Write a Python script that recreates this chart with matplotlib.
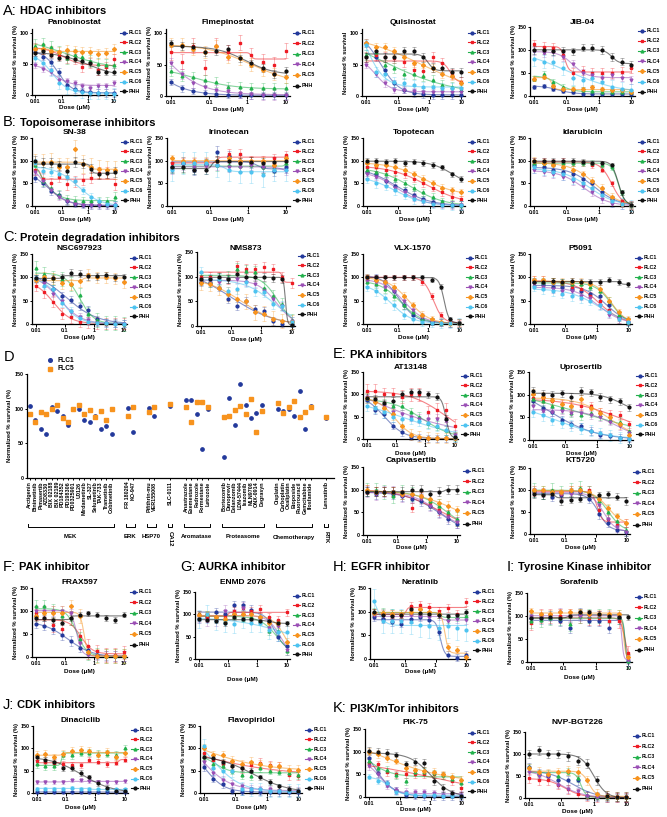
import numpy as np
import matplotlib
matplotlib.use("Agg")
import matplotlib.pyplot as plt
from matplotlib.lines import Line2D
from matplotlib.transforms import blended_transform_factory

plt.rcParams['font.family'] = ['Liberation Sans', 'DejaVu Sans']
plt.rcParams['font.weight'] = 'bold'
plt.rcParams['axes.labelweight'] = 'bold'

W, H = 667, 817

# ---------------- data ----------------
doses = [0.01, 0.02, 0.039, 0.078, 0.156, 0.3125, 0.625, 1.25, 2.5, 5, 10]
names = ["FLC1", "FLC2", "FLC3", "FLC4", "FLC5", "FLC6", "PHH"]
colors = {"FLC1": "#23399b", "FLC2": "#ee1c25", "FLC3": "#22b14c", "FLC4": "#9a4fb5",
          "FLC5": "#f7931e", "FLC6": "#4dc3f0", "PHH": "#111111"}
markers = {"FLC1": "o", "FLC2": "s", "FLC3": "^", "FLC4": "v", "FLC5": "D", "FLC6": "o", "PHH": "o"}

panobinostat = {
    "FLC1": [70, 62, 53, 38, 16, 10, 6, 5, 4, 3, 3],
    "FLC2": [77, 75, 70, 65, 60, 58, 45, 52, 40, 45, 58],
    "FLC3": [80, 82, 78, 70, 60, 65, 62, 55, 50, 48, 48],
    "FLC4": [48, 42, 38, 25, 22, 20, 15, 12, 15, 15, 20],
    "FLC5": [75, 75, 72, 70, 73, 72, 70, 70, 67, 68, 75],
    "FLC6": [60, 52, 40, 20, 12, 8, 5, 3, 3, 3, 2],
    "PHH": [68, 72, 65, 60, 62, 58, 55, 52, 37, 38, 38]}
panobinostat_err = [6, 8, 10, 5, 8, 10, 5]
fimepinostat = {
    "FLC1": [22, 12, 8, 5, 3, 2, 2, 1, 1, 1, 1],
    "FLC2": [70, 55, 80, 45, 80, 70, 85, 65, 55, 50, 72],
    "FLC3": [40, 32, 30, 25, 22, 15, 14, 13, 12, 12, 12],
    "FLC4": [52, 35, 20, 15, 10, 8, 5, 3, 2, 2, 2],
    "FLC5": [82, 82, 75, 70, 80, 62, 60, 50, 42, 35, 30],
    "PHH": [84, 80, 78, 70, 72, 75, 60, 52, 45, 35, 40]}
fimepinostat_err = [5, 12, 8, 8, 10, 6]
quisinostat = {
    "FLC1": [85, 62, 42, 20, 10, 5, 3, 2, 2, 2, 2],
    "FLC2": [62, 65, 62, 60, 55, 42, 40, 62, 52, 35, 22],
    "FLC3": [65, 70, 50, 45, 35, 35, 32, 25, 18, 15, 10],
    "FLC4": [50, 35, 20, 10, 10, 8, 7, 6, 7, 6, 6],
    "FLC5": [85, 78, 78, 72, 62, 52, 50, 45, 35, 32, 20],
    "FLC6": [82, 38, 35, 22, 20, 18, 15, 14, 12, 12, 12],
    "PHH": [62, 72, 62, 63, 72, 72, 62, 45, 45, 38, 38]}
quisinostat_err = [6, 8, 8, 5, 6, 8, 7]
jib04 = {
    "FLC1": [20, 22, 15, 10, 8, 5, 5, 5, 4, 4, 4],
    "FLC2": [112, 107, 105, 90, 50, 55, 50, 50, 50, 52, 60],
    "FLC3": [38, 48, 30, 20, 15, 13, 10, 8, 8, 8, 8],
    "FLC4": [98, 93, 95, 85, 70, 50, 45, 40, 45, 40, 35],
    "FLC5": [38, 42, 22, 15, 15, 15, 20, 15, 12, 12, 8],
    "FLC6": [80, 75, 75, 60, 40, 35, 40, 30, 20, 15, 12],
    "PHH": [100, 99, 98, 98, 97, 105, 105, 100, 85, 75, 68]}
jib04_err = [4, 10, 6, 8, 5, 15, 8]

sn38 = {
    "FLC1": [62, 50, 32, 25, 10, 5, 3, 2, 2, 2, 2],
    "FLC2": [80, 60, 50, 65, 48, 55, 58, 62, 73, 73, 48],
    "FLC3": [90, 55, 40, 25, 15, 12, 10, 10, 10, 10, 20],
    "FLC4": [75, 55, 35, 20, 10, 5, 3, 2, 2, 2, 2],
    "FLC5": [95, 95, 98, 85, 85, 125, 92, 85, 82, 80, 80],
    "FLC6": [95, 78, 75, 70, 65, 55, 35, 20, 10, 5, 3],
    "PHH": [100, 95, 95, 90, 78, 97, 93, 82, 70, 72, 75]}
sn38_err = [8, 12, 10, 6, 20, 8, 10]
irinotecan = {
    "FLC1": [85, 95, 80, 92, 120, 110, 100, 95, 85, 78, 85],
    "FLC2": [95, 95, 95, 95, 100, 115, 115, 100, 100, 105, 112],
    "FLC3": [85, 85, 88, 92, 90, 90, 88, 90, 85, 85, 95],
    "FLC4": [80, 90, 85, 88, 90, 85, 85, 90, 85, 85, 78],
    "FLC5": [105, 100, 100, 100, 100, 105, 100, 100, 100, 90, 105],
    "FLC6": [80, 95, 95, 95, 90, 80, 75, 75, 68, 80, 80],
    "PHH": [85, 85, 80, 80, 100, 100, 95, 98, 95, 98, 100]}
irinotecan_err = [12, 10, 12, 10, 8, 25, 10]
topotecan = {
    "FLC1": [75, 70, 55, 45, 35, 25, 15, 8, 5, 3, 2],
    "FLC2": [85, 85, 80, 75, 70, 60, 50, 40, 30, 20, 15],
    "FLC3": [80, 75, 70, 60, 50, 40, 30, 20, 10, 5, 3],
    "FLC4": [70, 65, 55, 40, 30, 20, 10, 5, 3, 2, 2],
    "FLC5": [95, 90, 90, 85, 80, 70, 60, 50, 40, 35, 30],
    "FLC6": [60, 50, 45, 35, 25, 15, 10, 5, 3, 2, 2],
    "PHH": [100, 100, 98, 100, 95, 98, 95, 90, 85, 70, 60]}
topotecan_err = [8, 8, 8, 8, 8, 10, 6]
idarubicin = {
    "FLC1": [90, 85, 80, 75, 70, 60, 50, 30, 15, 5, 2],
    "FLC2": [100, 100, 98, 100, 95, 95, 90, 80, 50, 10, 2],
    "FLC3": [95, 95, 95, 95, 95, 95, 95, 90, 85, 30, 2],
    "FLC4": [80, 75, 70, 65, 55, 45, 30, 15, 5, 2, 2],
    "FLC5": [100, 95, 90, 85, 80, 70, 55, 40, 20, 5, 2],
    "FLC6": [85, 80, 75, 70, 60, 50, 40, 25, 10, 5, 2],
    "PHH": [100, 100, 100, 100, 100, 98, 95, 95, 90, 30, 3]}
idarubicin_err = [8, 6, 6, 8, 8, 12, 5]

nsc697923 = {
    "FLC1": [98, 95, 75, 60, 52, 38, 30, 10, 3, 2, 1],
    "FLC2": [82, 68, 48, 22, 15, 5, 3, 2, 1, 1, 1],
    "FLC3": [120, 108, 98, 97, 85, 62, 22, 8, 3, 2, 1],
    "FLC4": [95, 88, 65, 50, 25, 15, 8, 3, 2, 1, 1],
    "FLC5": [95, 100, 98, 87, 85, 92, 105, 100, 100, 98, 90],
    "FLC6": [98, 82, 75, 45, 28, 12, 5, 3, 2, 1, 1],
    "PHH": [98, 97, 98, 100, 110, 108, 102, 102, 104, 100, 100]}
nsc697923_err = [8, 12, 15, 8, 12, 8, 8]
nms873 = {
    "FLC1": [90, 88, 78, 55, 40, 50, 35, 30, 10, 5, 5],
    "FLC2": [100, 100, 100, 95, 122, 115, 115, 120, 115, 100, 88],
    "FLC3": [95, 92, 95, 100, 115, 112, 110, 78, 60, 45, 12],
    "FLC4": [92, 90, 90, 95, 95, 90, 85, 70, 55, 40, 10],
    "FLC5": [88, 85, 78, 65, 55, 50, 28, 25, 15, 10, 8],
    "FLC6": [110, 95, 95, 70, 75, 90, 70, 68, 45, 40, 8],
    "PHH": [95, 95, 100, 95, 105, 100, 100, 100, 98, 95, 2]}
nms873_err = [8, 10, 12, 8, 15, 10, 8]
vlx1570 = {
    "FLC1": [100, 100, 90, 70, 40, 20, 10, 5, 3, 2, 2],
    "FLC2": [100, 100, 100, 100, 100, 100, 90, 60, 20, 5, 2],
    "FLC3": [90, 85, 75, 60, 40, 25, 10, 5, 3, 2, 2],
    "FLC4": [95, 90, 80, 70, 50, 30, 15, 5, 3, 2, 2],
    "FLC5": [100, 95, 90, 80, 60, 40, 20, 10, 5, 3, 2],
    "FLC6": [80, 70, 55, 40, 20, 10, 5, 3, 2, 2, 2],
    "PHH": [100, 100, 100, 100, 100, 100, 100, 95, 80, 10, 2]}
vlx1570_err = [8, 6, 8, 8, 8, 10, 5]
p5091 = {
    "FLC1": [90, 85, 80, 80, 75, 70, 65, 60, 40, 15, 5],
    "FLC2": [95, 95, 90, 85, 80, 75, 60, 50, 30, 10, 5],
    "FLC3": [90, 90, 90, 88, 85, 85, 80, 70, 50, 20, 5],
    "FLC4": [85, 80, 75, 70, 70, 60, 55, 40, 20, 10, 5],
    "FLC5": [95, 95, 90, 90, 90, 90, 85, 75, 50, 25, 10],
    "FLC6": [80, 75, 70, 65, 60, 55, 50, 40, 25, 10, 5],
    "PHH": [90, 90, 92, 90, 92, 90, 90, 90, 95, 90, 85]}
p5091_err = [8, 8, 8, 8, 8, 10, 6]

at13148 = {
    "FLC1": [88, 65, 55, 30, 15, 5, 3, 2, 2, 2, 2],
    "FLC2": [108, 108, 100, 100, 95, 100, 100, 60, 65, 65, 30],
    "FLC3": [92, 85, 80, 75, 75, 60, 50, 35, 30, 20, 5],
    "FLC4": [95, 82, 75, 60, 55, 50, 45, 45, 45, 40, 10],
    "FLC5": [92, 82, 70, 55, 30, 10, 5, 3, 2, 2, 2],
    "FLC6": [75, 70, 60, 50, 45, 45, 40, 35, 30, 20, 5],
    "PHH": [92, 90, 80, 85, 100, 105, 105, 100, 95, 45, 5]}
at13148_err = [8, 15, 10, 10, 12, 12, 8]
uprosertib = {
    "FLC1": [85, 70, 62, 45, 35, 30, 20, 12, 8, 5, 3],
    "FLC2": [92, 90, 85, 80, 75, 75, 75, 62, 58, 55, 35],
    "FLC3": [90, 85, 75, 70, 60, 55, 60, 55, 45, 40, 20],
    "FLC4": [75, 65, 62, 65, 60, 60, 55, 50, 40, 30, 15],
    "FLC5": [102, 95, 88, 80, 75, 90, 70, 60, 50, 35, 12],
    "FLC6": [62, 55, 45, 38, 32, 25, 20, 15, 10, 5, 3],
    "PHH": [108, 102, 100, 103, 95, 108, 105, 95, 90, 85, 72]}
uprosertib_err = [8, 8, 10, 8, 10, 12, 8]
capivasertib = {
    "FLC1": [95, 90, 95, 90, 85, 80, 75, 65, 50, 35, 25],
    "FLC2": [100, 95, 95, 95, 90, 60, 85, 70, 55, 45, 30],
    "FLC3": [100, 100, 95, 85, 95, 90, 85, 75, 65, 50, 35],
    "FLC4": [95, 90, 95, 95, 85, 85, 80, 65, 50, 40, 28],
    "FLC5": [100, 95, 95, 95, 90, 90, 85, 80, 70, 65, 55],
    "PHH": [95, 95, 95, 95, 95, 100, 100, 90, 95, 100, 100]}
capivasertib_err = [10, 10, 15, 12, 10, 10]
kt5720 = {
    "FLC1": [95, 90, 85, 88, 95, 95, 80, 45, 25, 10, 5],
    "FLC2": [95, 95, 95, 90, 100, 100, 100, 55, 35, 20, 25],
    "FLC3": [100, 95, 100, 95, 100, 105, 95, 75, 50, 30, 10],
    "FLC4": [100, 95, 90, 90, 90, 95, 90, 65, 35, 15, 5],
    "FLC5": [100, 100, 95, 95, 100, 100, 95, 80, 60, 40, 25],
    "PHH": [90, 88, 90, 75, 78, 80, 88, 88, 90, 85, 75]}
kt5720_err = [10, 8, 15, 10, 8, 8]

frax597 = {
    "FLC1": [72, 68, 60, 48, 35, 20, 15, 5, 3, 2, 2],
    "FLC2": [95, 85, 70, 60, 85, 45, 25, 12, 5, 5, 10],
    "FLC3": [110, 110, 100, 90, 85, 40, 8, 5, 3, 2, 2],
    "FLC4": [100, 100, 100, 100, 95, 30, 5, 3, 2, 2, 2],
    "FLC5": [90, 95, 95, 95, 110, 90, 10, 3, 2, 2, 2],
    "PHH": [85, 85, 80, 75, 85, 92, 95, 92, 85, 80, 92]}
frax597_err = [10, 15, 15, 10, 15, 6]
enmd2076 = {
    "FLC1": [90, 95, 105, 100, 120, 120, 110, 95, 85, 50, 28],
    "FLC2": [100, 92, 95, 95, 108, 115, 108, 112, 95, 88, 105],
    "FLC3": [100, 100, 95, 90, 95, 90, 95, 85, 62, 62, 18],
    "FLC4": [95, 85, 85, 108, 100, 115, 100, 90, 70, 75, 20],
    "FLC5": [98, 100, 95, 90, 100, 100, 100, 95, 80, 80, 38],
    "FLC6": [90, 100, 85, 80, 78, 90, 80, 80, 65, 60, 60],
    "PHH": [90, 88, 85, 80, 95, 90, 90, 85, 85, 80, 80]}
enmd2076_err = [10, 8, 8, 12, 8, 20, 5]
neratinib = {
    "FLC1": [88, 85, 78, 75, 85, 88, 82, 58, 8, 3, 8],
    "FLC2": [98, 95, 95, 90, 112, 115, 110, 102, 108, 95, 120],
    "FLC3": [100, 100, 98, 95, 100, 95, 100, 95, 85, 88, 90],
    "FLC4": [92, 90, 88, 90, 92, 90, 88, 90, 80, 85, 82],
    "FLC5": [98, 98, 95, 95, 100, 105, 100, 95, 25, 20, 5],
    "FLC6": [122, 80, 80, 80, 78, 72, 70, 65, 70, 65, 62],
    "PHH": [100, 92, 90, 92, 105, 98, 95, 92, 90, 92, 100]}
neratinib_err = [8, 8, 8, 8, 8, 25, 6]
sorafenib = {
    "FLC1": [95, 95, 95, 90, 75, 105, 90, 90, 75, 95, 3],
    "FLC2": [85, 100, 100, 100, 100, 100, 95, 95, 90, 90, 20],
    "FLC3": [90, 92, 95, 95, 82, 100, 100, 100, 100, 98, 2],
    "FLC4": [100, 98, 100, 108, 100, 100, 100, 100, 100, 98, 5],
    "FLC5": [110, 105, 105, 108, 108, 108, 105, 105, 105, 105, 10],
    "PHH": [95, 95, 98, 95, 100, 108, 108, 105, 100, 98, 97]}
sorafenib_err = [12, 15, 15, 10, 8, 5]

dinaciclib = {
    "FLC1": [2, 2, 3, 2, 3, 3, 2, 3, 2, 2, 2],
    "FLC2": [72, 70, 68, 65, 63, 62, 75, 70, 65, 68, 75],
    "FLC3": [65, 60, 60, 85, 85, 90, 90, 88, 88, 85, 100],
    "FLC4": [25, 24, 25, 25, 28, 28, 26, 24, 25, 25, 26],
    "FLC5": [85, 88, 80, 88, 95, 97, 95, 85, 92, 80, 90],
    "FLC6": [10, 10, 10, 10, 12, 10, 10, 8, 8, 8, 8],
    "PHH": [80, 75, 70, 55, 55, 45, 35, 22, 12, 5, 5]}
dinaciclib_err = [2, 6, 8, 4, 8, 3, 6]
flavopiridol = {
    "FLC1": [58, 32, 20, 5, 3, 5, 3, 2, 2, 2, 2],
    "FLC2": [90, 75, 65, 60, 55, 62, 68, 62, 60, 40, 38],
    "FLC3": [80, 65, 60, 50, 40, 38, 55, 50, 48, 45, 40],
    "FLC4": [70, 45, 30, 20, 15, 10, 8, 8, 5, 5, 5],
    "FLC5": [100, 85, 85, 72, 65, 70, 65, 60, 60, 52, 52],
    "FLC6": [105, 55, 50, 50, 10, 8, 8, 5, 5, 5, 5],
    "PHH": [80, 78, 70, 60, 55, 50, 35, 25, 15, 10, 5]}
flavopiridol_err = [8, 10, 8, 8, 10, 15, 6]
pik75 = {
    "FLC1": [85, 52, 30, 15, 5, 3, 2, 2, 2, 2, 2],
    "FLC2": [75, 72, 55, 50, 50, 50, 50, 50, 48, 35, 20],
    "FLC3": [80, 65, 60, 48, 35, 55, 55, 52, 48, 40, 30],
    "FLC4": [68, 50, 25, 15, 12, 10, 10, 8, 5, 5, 5],
    "FLC5": [100, 95, 85, 80, 65, 60, 58, 55, 50, 45, 38],
    "FLC6": [45, 35, 30, 10, 8, 5, 5, 5, 3, 3, 3],
    "PHH": [102, 100, 98, 92, 72, 78, 75, 35, 20, 8, 3]}
pik75_err = [8, 8, 8, 8, 8, 6, 8]
nvpbgt226 = {
    "FLC1": [70, 55, 50, 40, 40, 40, 5, 3, 2, 2, 2],
    "FLC2": [45, 40, 40, 30, 20, 10, 3, 2, 2, 2, 2],
    "FLC3": [70, 55, 55, 50, 60, 45, 5, 3, 2, 2, 2],
    "FLC4": [60, 50, 50, 30, 20, 15, 5, 3, 2, 2, 2],
    "FLC5": [68, 60, 55, 58, 62, 60, 40, 10, 5, 3, 3],
    "PHH": [100, 108, 100, 100, 95, 85, 78, 40, 5, 3, 3]}
nvpbgt226_err = [10, 10, 8, 8, 10, 10]

# Panel D
d_groups = ["MEK", "ERK", "HSP70", "CA12", "Aromatase", "Proteasome", "Chemotherapy", "RTK"]
d_drugs = [
    ["Arctigenin", "Binimetinib", "Pimasertib", "AZD8330", "BIX 02188", "BIX 02189", "PD184352",
     "PD198306", "PD0325901", "U0126", "Mirdametinib", "SL-327", "Selumetinib", "TAK-733",
     "Trametinib", "Cobimetinib"],
    ["FR 180204", "KO-947"],
    ["Pifithrin-mu", "VER155008"],
    ["SLC-0111"],
    ["Anastrazole", "Exemestane", "Fadrozole", "Formestane", "Letrozole"],
    ["Bortezomib", "Danoprevir", "Delanzomib", "LDN-57444", "Ixazomib", "MLN9708", "ONX-0914", "Degrasyn"],
    ["Cisplatin", "Carboplatin", "Oxaliplatin", "Etoposide", "Fluorouracil", "Gemcitabine", "Ifosfamide"],
    ["Lenvatinib"]]
d_flc1 = [104, 83, 71, 63, 102, 97, 90, 77, 100, 100, 83, 81, 90, 71, 75, 63,
          101, 67, 101, 89, 104, 113, 112, 93, 42, 100,
          31, 115, 77, 136, 105, 87, 94, 106,
          100, 96, 99, 89, 126, 71, 104, 86]
d_flc5 = [93, 81, 95, 93, 99, 106, 87, 81, 100, 105, 93, 98, 88, 96, 84, 100,
          89, 103, 95, 102, 107, 102, 81, 109, 109, 102,
          88, 89, 98, 104, 93, 114, 67, 96,
          108, 94, 103, 111, 88, 95, 102, 88]

# ---------------- helpers ----------------
fig = plt.figure(figsize=(W / 100, H / 100), dpi=100)


def ftext(x, y, s, **kw):
    return fig.text(x / W, 1 - y / H, s, **kw)


def fit4pl(x, y):
    lx = np.log10(np.asarray(x, float))
    y = np.asarray(y, float)
    c = np.linspace(-2.8, 1.8, 93)
    h = np.geomspace(0.3, 15, 36)
    C, HH = np.meshgrid(c, h, indexing='ij')
    S = 1.0 / (1.0 + 10 ** ((lx[None, None, :] - C[..., None]) * HH[..., None]))
    sm = S.mean(-1)
    ym = y.mean()
    var = ((S - sm[..., None]) ** 2).sum(-1)
    cov = ((S - sm[..., None]) * (y - ym)).sum(-1)
    span = np.where(var > 1e-6, cov / np.maximum(var, 1e-6), 0.0)
    b = ym - span * sm
    t = b + span
    b = np.clip(b, 0, 150)
    t = np.clip(t, 0, 160)
    pred = b[..., None] + (t - b)[..., None] * S
    sse = ((pred - y) ** 2).sum(-1) + 1e-3 * (1.0 / HH)
    i = np.unravel_index(np.argmin(sse), sse.shape)
    return b[i], t[i], C[i], HH[i]


def style_axes(ax, yticks):
    for s in ["top", "right"]:
        ax.spines[s].set_visible(False)
    for s in ["left", "bottom"]:
        ax.spines[s].set_linewidth(0.9)
    ax.tick_params(axis='both', direction='out', length=1.8, width=0.7, labelsize=3.9, pad=0.8)
    ax.set_yticks(yticks)
    ax.set_yticklabels([str(v) for v in yticks], fontweight='bold')


def legend_entries(entries, lx, ty, dy, fs=3.8, ms=2.0):
    for k, (nm, col, mk) in enumerate(entries):
        yy = ty + k * dy
        fig.add_artist(Line2D([lx / W, (lx + 7) / W], [1 - yy / H, 1 - yy / H], color=col,
                              lw=0.8, transform=fig.transFigure))
        fig.add_artist(Line2D([(lx + 3.5) / W], [1 - yy / H], color=col, ls='none',
                              marker=mk, ms=ms, transform=fig.transFigure))
        ftext(lx + 9, yy, nm, fontsize=fs, fontweight='bold', va='center', ha='left')


def dose_panel(data, err, box, ymax, yticks, title, title_y, xlabel_y,
               ylabel="Normalized % survival (%)", leg_dy=9.8):
    l, t, r, b = box
    ax = fig.add_axes([l / W, 1 - b / H, (r - l) / W, (b - t) / H])
    xs = np.geomspace(0.01, 10, 200)
    for k, (nm, vals) in enumerate(data.items()):
        col = colors[nm]
        ax.errorbar(doses, vals, yerr=err[k], fmt='none', ecolor=col, alpha=0.35,
                    elinewidth=0.6, capsize=1.2, capthick=0.6, clip_on=False)
        bb, tt, cc, hh = fit4pl(doses, vals)
        ys = bb + (tt - bb) / (1 + 10 ** ((np.log10(xs) - cc) * hh))
        ax.plot(xs, ys, color=col, lw=0.8, alpha=0.55)
        ax.plot(doses, vals, ls='none', marker=markers[nm], ms=2.0, color=col,
                mec=col, clip_on=False, zorder=5)
    ax.set_xscale('log')
    ax.set_xlim(0.0075, 13)
    ax.set_ylim(0, ymax)
    ax.set_xticks([0.01, 0.1, 1, 10])
    ax.set_xticklabels(["0.01", "0.1", "1", "10"], fontweight='bold')
    ax.xaxis.set_minor_locator(matplotlib.ticker.NullLocator())
    style_axes(ax, yticks)
    ax.set_ylabel(ylabel, fontsize=4.2, fontweight='bold', labelpad=1.2)
    ftext((l + r) / 2, title_y, title, fontsize=6, fontweight='bold', ha='center', va='center')
    ftext((l + r) / 2, max(xlabel_y, b + 13), "Dose (\u03bcM)", fontsize=4.6, fontweight='bold',
          ha='center', va='center')
    legend_entries([(nm, colors[nm], markers[nm]) for nm in data.keys()], r + 3, t + 3.5, leg_dy)
    return ax


def header(x, y, letter, text):
    t1 = ftext(x, y, letter + ":", fontsize=10.5, fontweight='normal', ha='left', va='center')
    rend = fig.canvas.get_renderer()
    bb = t1.get_window_extent(rend)
    ftext(bb.x1 + 3, y + 0.5, text, fontsize=8, fontweight='bold', ha='left', va='center')


# ---------------- headers ----------------
header(3, 11, "A", "HDAC inhibitors")
header(3, 122, "B", "Topoisomerase inhibitors")
header(3, 237, "C", "Protein degradation inhibitors")
header(333, 354, "E", "PKA inhibitors")
header(3, 567, "F", "PAK inhibitor")
header(180, 567, "G", "AURKA inhibitor")
header(333, 567, "H", "EGFR inhibitor")
header(507, 567, "I", "Tyrosine Kinase inhibitor")
header(3, 705, "J", "CDK inhibitors")
header(333, 708, "K", "PI3K/mTor inhibitors")

# ---------------- dose-response panels ----------------
dose_panel(panobinostat, panobinostat_err, (32, 29, 117, 95), 107, [0, 50, 100], "Panobinostat", 23, 107)
dose_panel(fimepinostat, fimepinostat_err, (166, 29, 290, 96), 107, [0, 50, 100], "Fimepinostat", 23, 108,
           leg_dy=10.6)
dose_panel(quisinostat, quisinostat_err, (362, 29, 465, 96), 107, [0, 50, 100], "Quisinostat", 23, 108,
           ylabel="Normalized % survival")
dose_panel(jib04, jib04_err, (530, 27, 635, 96), 150, [0, 50, 100, 150], "JIB-04", 23, 108, leg_dy=10.2)

dose_panel(sn38, sn38_err, (32, 138, 118, 206), 150, [0, 50, 100, 150], "SN-38", 132, 217)
dose_panel(irinotecan, irinotecan_err, (167, 138, 290, 206), 150, [0, 50, 100, 150], "Irinotecan", 132, 217)
dose_panel(topotecan, topotecan_err, (363, 138, 465, 206), 150, [0, 50, 100, 150], "Topotecan", 132, 217)
dose_panel(idarubicin, idarubicin_err, (530, 138, 635, 206), 150, [0, 50, 100, 150], "Idarubicin", 132, 217)

dose_panel(nsc697923, nsc697923_err, (32, 254, 127, 324), 150, [0, 50, 100, 150], "NSC697923", 249, 337)
dose_panel(nms873, nms873_err, (197, 252, 295, 326), 150, [0, 50, 100, 150], "NMS873", 248, 339)
dose_panel(vlx1570, vlx1570_err, (363, 254, 463, 324), 150, [0, 50, 100, 150], "VLX-1570", 249, 337)
dose_panel(p5091, p5091_err, (530, 254, 632, 324), 150, [0, 50, 100, 150], "P5091", 249, 337)

dose_panel(at13148, at13148_err, (363, 372, 458, 439), 150, [0, 50, 100, 150], "AT13148", 367, 453)
dose_panel(uprosertib, uprosertib_err, (529, 372, 633, 440), 150, [0, 50, 100, 150], "Uprosertib", 367, 453)
dose_panel(capivasertib, capivasertib_err, (363, 467, 460, 535), 150, [0, 50, 100, 150], "Capivasertib", 461, 548,
           leg_dy=10.6)
dose_panel(kt5720, kt5720_err, (530, 468, 630, 534), 150, [0, 50, 100, 150], "KT5720", 461, 548, leg_dy=10.6)

dose_panel(frax597, frax597_err, (32, 588, 127, 657), 150, [0, 50, 100, 150], "FRAX597", 583, 671, leg_dy=10.6)
dose_panel(enmd2076, enmd2076_err, (195, 592, 290, 659), 150, [0, 50, 100, 150], "ENMD 2076", 583, 679)
dose_panel(neratinib, neratinib_err, (370, 588, 470, 659), 150, [0, 50, 100, 150], "Neratinib", 583, 672)
dose_panel(sorafenib, sorafenib_err, (527, 593, 632, 662), 150, [0, 50, 100, 150], "Sorafenib", 583, 677,
           leg_dy=10.6)

dose_panel(dinaciclib, dinaciclib_err, (33, 726, 128, 793), 150, [0, 50, 100, 150], "Dinaciclib", 721, 808)
dose_panel(flavopiridol, flavopiridol_err, (200, 726, 302, 793), 150, [0, 50, 100, 150], "Flavopiridol", 721, 808)
dose_panel(pik75, pik75_err, (365, 729, 465, 797), 150, [0, 50, 100, 150], "PIK-75", 722, 810)
dose_panel(nvpbgt226, nvpbgt226_err, (525, 732, 630, 798), 150, [0, 50, 100, 150], "NVP-BGT226", 723, 811,
           leg_dy=10.6)

# ---------------- panel D ----------------
gap = 2.9
xpos, labels, spans = [], [], []
cur = 0.0
for gi, drugs in enumerate(d_drugs):
    start = cur
    for dname in drugs:
        xpos.append(cur)
        labels.append(dname)
        cur += 1
    spans.append((start, cur - 1))
    cur += gap - 1
l, t, r, b = 27, 374, 334, 478
axd = fig.add_axes([l / W, 1 - b / H, (r - l) / W, (b - t) / H])
axd.plot(xpos, d_flc1, ls='none', marker='o', ms=2.4, color=colors["FLC1"], clip_on=False)
axd.plot(xpos, d_flc5, ls='none', marker='s', ms=2.4, color=colors["FLC5"], clip_on=False)
axd.set_xlim(-0.5, xpos[-1] + 1.4)
axd.set_ylim(0, 150)
style_axes(axd, [0, 50, 100, 150])
axd.set_xticks(xpos)
axd.set_xticklabels(labels, rotation=90, fontsize=3.9, fontweight='bold')
axd.tick_params(axis='x', length=1.5, pad=1)
axd.set_ylabel("Normalized % survival (%)", fontsize=4.2, fontweight='bold', labelpad=1.5)
ftext(4, 357, "D", fontsize=10.5, fontweight='normal', ha='left', va='center')
for i, (nm, mk) in enumerate([("FLC1", 'o'), ("FLC5", 's')]):
    yy = 360 + i * 8.5
    fig.add_artist(Line2D([50 / W], [1 - yy / H], ls='none', marker=mk, ms=2.6, color=colors[nm],
                          transform=fig.transFigure))
    ftext(57, yy, nm, fontsize=4.8, fontweight='bold', ha='left', va='center')
trans = blended_transform_factory(axd.transData, fig.transFigure)
ybr = 1 - 527 / H
tick = 3 / H
for gname, (s0, s1) in zip(d_groups, spans):
    x0, x1 = s0 - 0.35, s1 + 0.35
    axd.add_line(Line2D([x0, x0, x1, x1], [ybr + tick, ybr, ybr, ybr + tick], color='black',
                        lw=0.7, transform=trans, clip_on=False))
    xc = (s0 + s1) / 2
    if gname in ("CA12", "RTK"):
        axd.text(xc, 1 - 531 / H, gname, transform=trans, rotation=270, fontsize=4.3,
                 fontweight='bold', ha='center', va='top')
    else:
        axd.text(xc, 1 - 537 / H, gname, transform=trans, fontsize=4.3,
                 fontweight='bold', ha='center', va='center')

fig.savefig("out.png", dpi=100)
